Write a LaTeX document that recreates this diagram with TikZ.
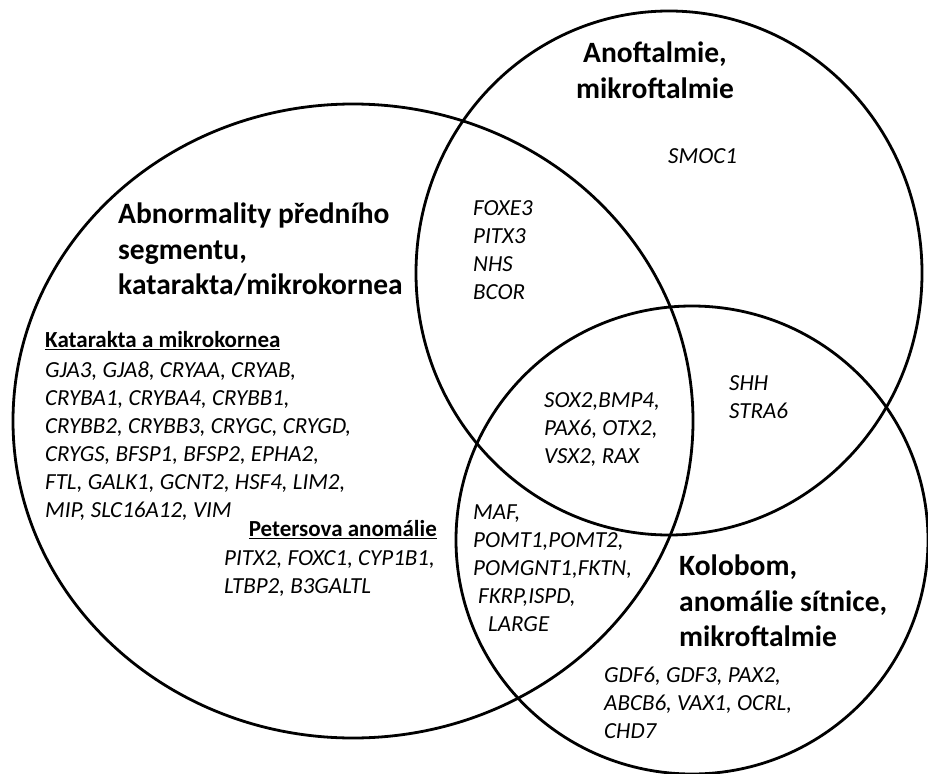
\documentclass[tikz,border=0pt]{standalone}
\usepackage{fontspec}
\setmainfont{Carlito}
\usetikzlibrary{positioning}
\tikzstyle{venn}=[line width=2.8]
\tikzstyle{head}=[font=\fontsize{29.5}{35.5}\selectfont\bfseries, align=left, inner sep=0pt, anchor=north west]
\tikzstyle{sub}=[font=\fontsize{23}{28}\selectfont\bfseries, inner sep=0pt]
\tikzstyle{gene}=[font=\fontsize{23}{28}\selectfont\itshape, align=left, inner sep=0pt, anchor=north west]

\begin{document}
\begin{tikzpicture}[x=1pt, y=-1pt]

    \useasboundingbox[fill=white] (0,0) rectangle (928,773);

    % the three sets
    \coordinate (front) at (353,421);
    \coordinate (ano) at (669,273);
    \coordinate (kol) at (692,540);
    \draw[venn] (front) ellipse [x radius=340, y radius=317];
    \draw[venn] (ano) ellipse [x radius=253, y radius=262];
    \draw[venn] (kol) ellipse [x radius=236, y radius=234];

    % set titles
    \node (fronttitle) [head] at (118,203) {Abnormality předního\\segmentu,\\katarakta/mikrokornea};
    \node (anotitle) [head, anchor=north, align=center] at (655,42) {Anoftalmie,\\mikroftalmie};
    \node (koltitle) [head] at (679,555) {Kolobom,\\anomálie sítnice,\\mikroftalmie};

    % front segment only
    \node (kat) [sub, anchor=north west] at (45,331) {\underline{Katarakta a mikrokornea}};
    \node (katgenes) [gene] at (45,362) {GJA3, GJA8, CRYAA, CRYAB,\\CRYBA1, CRYBA4, CRYBB1,\\CRYBB2, CRYBB3, CRYGC, CRYGD,\\CRYGS, BFSP1, BFSP2, EPHA2,\\FTL, GALK1, GCNT2, HSF4, LIM2,\\MIP, SLC16A12, VIM};
    \node (pet) [sub, anchor=north east] at (437,520) {\underline{Petersova anomálie}};
    \node (petgenes) [gene] at (224,550) {PITX2, FOXC1, CYP1B1,\\LTBP2, B3GALTL};

    % the other regions
    \node (anogenes) [gene] at (668,148) {SMOC1};
    \node (frontano) [gene] at (473,200) {FOXE3\\PITX3\\NHS\\BCOR};
    \node (allthree) [gene] at (544,392) {SOX2,BMP4,\\PAX6, OTX2,\\VSX2, RAX};
    \node (anokol) [gene] at (729,375) {SHH\\STRA6};
    \node (frontkol) [gene] at (473,505) {MAF,\\POMT1,POMT2,\\POMGNT1,FKTN,\\\hspace{5pt}FKRP,ISPD,\\\hspace{15pt}LARGE};
    \node (kolgenes) [gene] at (604,667) {GDF6, GDF3, PAX2,\\ABCB6, VAX1, OCRL,\\CHD7};

\end{tikzpicture}
\end{document}
